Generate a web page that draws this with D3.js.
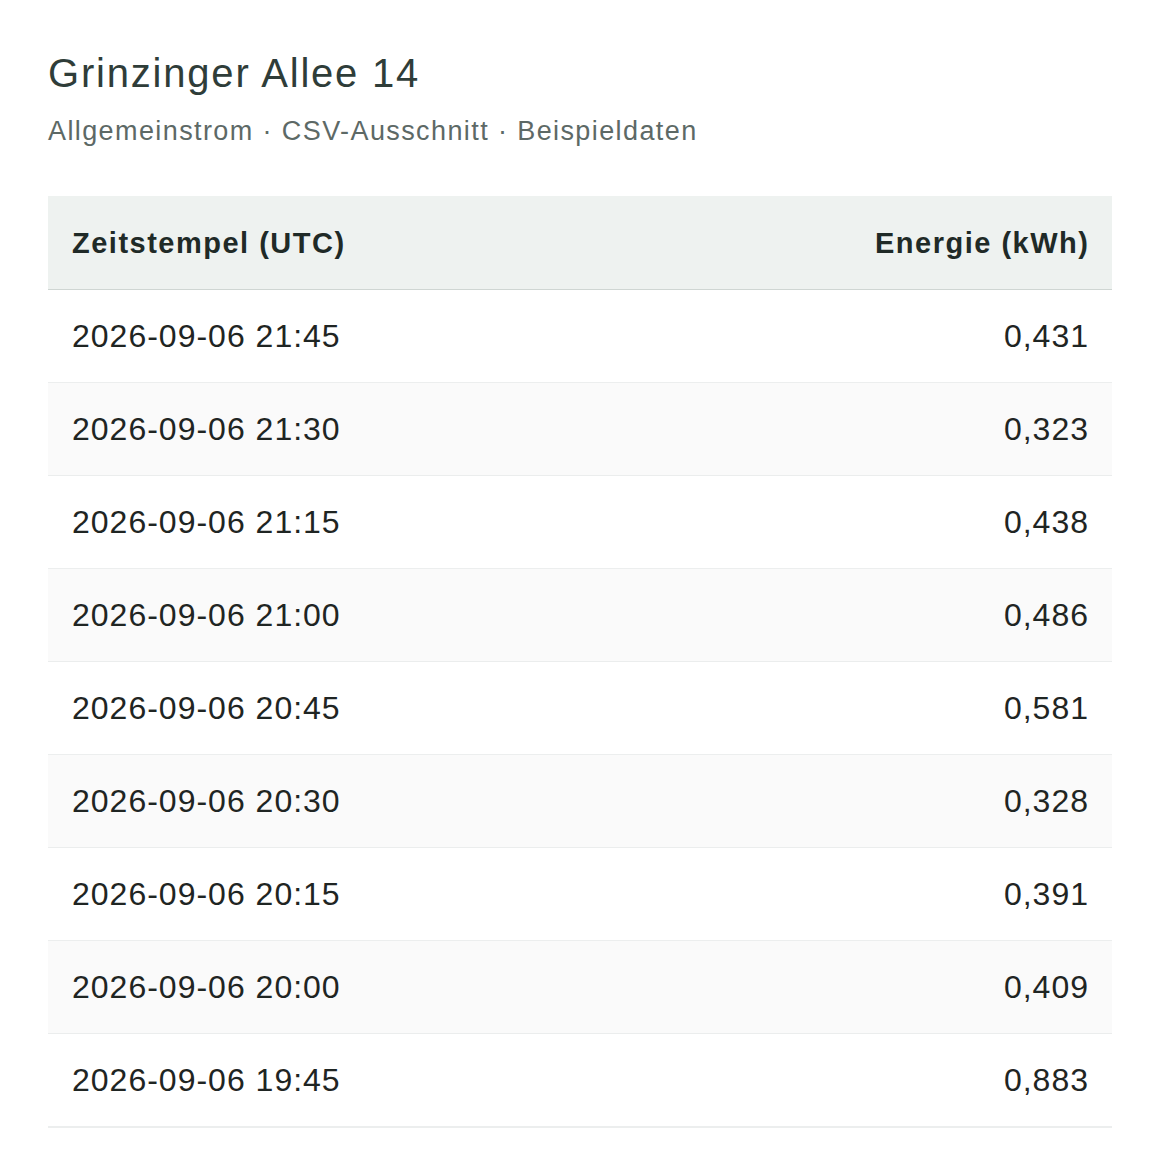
<!DOCTYPE html>
<html><head><meta charset="utf-8">
<script src="https://cdn.jsdelivr.net/npm/d3@7"></script>
<style>body{margin:0;background:#fff;font-family:"Liberation Sans",Arial,sans-serif;}</style>
</head><body><svg id="c" width="1160" height="1176"></svg>
<script>
const title = "Grinzinger Allee 14";
const subtitle = "Allgemeinstrom · CSV-Ausschnitt · Beispieldaten";
const columns = ["Zeitstempel (UTC)", "Energie (kWh)"];
const timestamps = ["2026-09-06 21:45","2026-09-06 21:30","2026-09-06 21:15","2026-09-06 21:00","2026-09-06 20:45","2026-09-06 20:30","2026-09-06 20:15","2026-09-06 20:00","2026-09-06 19:45"];
const energy = [0.431,0.323,0.438,0.486,0.581,0.328,0.391,0.409,0.883];

const svg = d3.select("#c");
const L = 48, R = 1112, headTop = 196, headH = 94, rowH = 93;
svg.append("text").attr("x",L).attr("y",87).attr("font-size",40).attr("letter-spacing",1.8).attr("fill","#2f3d39").text(title);
svg.append("text").attr("x",L).attr("y",140).attr("font-size",27).attr("letter-spacing",1.4).attr("fill","#5d6966").text(subtitle);

svg.append("rect").attr("x",L).attr("y",headTop).attr("width",R-L).attr("height",headH).attr("fill","#eef2f0");
svg.append("line").attr("x1",L).attr("x2",R).attr("y1",headTop+headH).attr("y2",headTop+headH).attr("stroke","#cfd6d3").attr("stroke-width",2);
svg.append("text").attr("x",L+24).attr("y",headTop+headH/2+10).attr("font-size",29).attr("letter-spacing",1.5).attr("font-weight","bold").attr("fill","#1f2a27").text(columns[0]);
svg.append("text").attr("x",R-24+1.5).attr("y",headTop+headH/2+10).attr("font-size",29).attr("letter-spacing",1.5).attr("font-weight","bold").attr("fill","#1f2a27").attr("text-anchor","end").text(columns[1]);

const y = d3.scaleBand().domain(d3.range(timestamps.length)).range([headTop+headH, headTop+headH+rowH*timestamps.length]);
const fmt = v => d3.format(".3f")(v).replace(".", ",");
const g = svg.selectAll("g.row").data(timestamps).join("g").attr("transform",(d,i)=>`translate(0,${y(i)})`);
g.append("rect").attr("x",L).attr("width",R-L).attr("height",y.bandwidth()).attr("fill",(d,i)=>i%2?"#fafafa":"#fff");
g.append("line").attr("x1",L).attr("x2",R).attr("y1",y.bandwidth()).attr("y2",y.bandwidth()).attr("stroke","#e6e9e8").attr("stroke-width",1.5);
g.append("text").attr("x",L+24).attr("y",y.bandwidth()/2+10).attr("font-size",32).attr("letter-spacing",1).attr("fill","#1f2523").text(d=>d);
g.append("text").attr("x",R-24+1).attr("y",y.bandwidth()/2+10).attr("font-size",32).attr("letter-spacing",1).attr("fill","#1f2523").attr("text-anchor","end").text((d,i)=>fmt(energy[i]));
</script></body></html>
